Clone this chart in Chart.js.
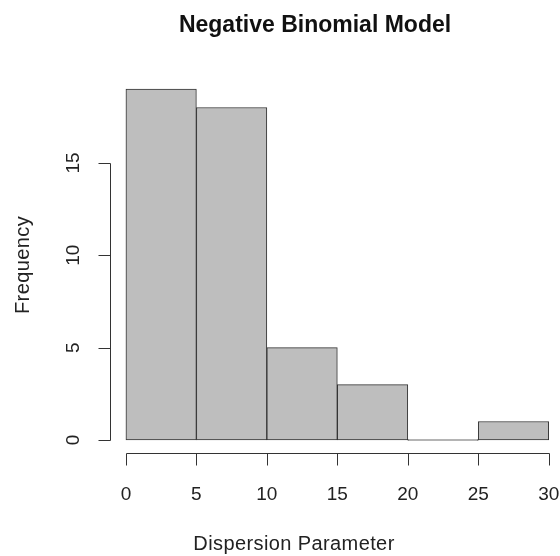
<!DOCTYPE html>
<html>
<head>
<meta charset="utf-8">
<script src="https://cdn.jsdelivr.net/npm/chart.js@4"></script>
<style>
  html, body { margin: 0; padding: 0; background: #fff; }
  #wrap { width: 560px; height: 556px; }
</style>
</head>
<body>
<div id="wrap"><canvas id="hist" width="560" height="556"></canvas></div>
<script>
"use strict";

// histogram bins (width 5) and counts
const binStarts = [0, 5, 10, 15, 20, 25];
const binWidth = 5;
const counts = [19, 18, 5, 3, 0, 1];
const xTicks = [0, 5, 10, 15, 20, 25, 30];
const yTicks = [0, 5, 10, 15];

const FONT = '"Liberation Sans", Arial, Helvetica, sans-serif';

// base-graphics style axes: detached lines with outward ticks
const rAxes = {
    id: 'rAxes',
    afterDraw(chart) {
        const ctx = chart.ctx;
        const xs = chart.scales.x, ys = chart.scales.y;
        const axisY = 453.5, axisX = 110.5, tick = 12;
        ctx.save();
        ctx.strokeStyle = '#333';
        ctx.lineWidth = 1;
        ctx.fillStyle = '#222';

        // x axis
        let x0 = Math.round(xs.getPixelForValue(xTicks[0])) + 0.5;
        let x1 = Math.round(xs.getPixelForValue(xTicks[xTicks.length - 1])) + 0.5;
        ctx.beginPath();
        ctx.moveTo(x0, axisY); ctx.lineTo(x1, axisY);
        xTicks.forEach(v => {
            let px = Math.round(xs.getPixelForValue(v)) + 0.5;
            ctx.moveTo(px, axisY); ctx.lineTo(px, axisY + tick);
        });
        ctx.stroke();
        ctx.font = '19px ' + FONT;
        ctx.textAlign = 'center';
        ctx.textBaseline = 'middle';
        xTicks.forEach(v => ctx.fillText(String(v), xs.getPixelForValue(v), 495));

        // y axis
        let y0 = Math.round(ys.getPixelForValue(yTicks[0])) + 0.5;
        let y1 = Math.round(ys.getPixelForValue(yTicks[yTicks.length - 1])) + 0.5;
        ctx.beginPath();
        ctx.moveTo(axisX, y0); ctx.lineTo(axisX, y1);
        yTicks.forEach(v => {
            let py = Math.round(ys.getPixelForValue(v)) + 0.5;
            ctx.moveTo(axisX, py); ctx.lineTo(axisX - tick, py);
        });
        ctx.stroke();
        yTicks.forEach(v => {
            ctx.save();
            ctx.translate(74, ys.getPixelForValue(v));
            ctx.rotate(-Math.PI / 2);
            ctx.fillText(String(v), 0, 0);
            ctx.restore();
        });

        // axis titles and main title
        ctx.font = '20px ' + FONT;
        ctx.letterSpacing = '0.4px';
        ctx.fillText('Dispersion Parameter', 294, 544);
        ctx.save();
        ctx.translate(23, 265);
        ctx.rotate(-Math.PI / 2);
        ctx.fillText('Frequency', 0, 0);
        ctx.restore();
        ctx.letterSpacing = '0px';
        ctx.font = 'bold 23px ' + FONT;
        ctx.fillStyle = '#111';
        ctx.fillText('Negative Binomial Model', 315, 26);
        ctx.restore();
    }
};

new Chart(document.getElementById('hist'), {
    type: 'bar',
    data: {
        datasets: [{
            data: binStarts.map((s, i) => ({ x: s + binWidth / 2, y: counts[i] })),
            backgroundColor: '#bebebe',
            borderColor: '#333',
            borderWidth: 1,
            borderSkipped: false,
            barPercentage: 1,
            categoryPercentage: 1,
            minBarLength: 1
        }]
    },
    options: {
        responsive: false,
        animation: false,
        layout: { padding: { left: 109, right: 0, top: 75, bottom: 102 } },
        plugins: { legend: { display: false }, tooltip: { enabled: false } },
        scales: {
            x: { type: 'linear', offset: false, min: -1.2, max: 30.8, display: false },
            y: { type: 'linear', min: -0.76, max: 19.76, display: false }
        }
    },
    plugins: [rAxes]
});
</script>
</body>
</html>
